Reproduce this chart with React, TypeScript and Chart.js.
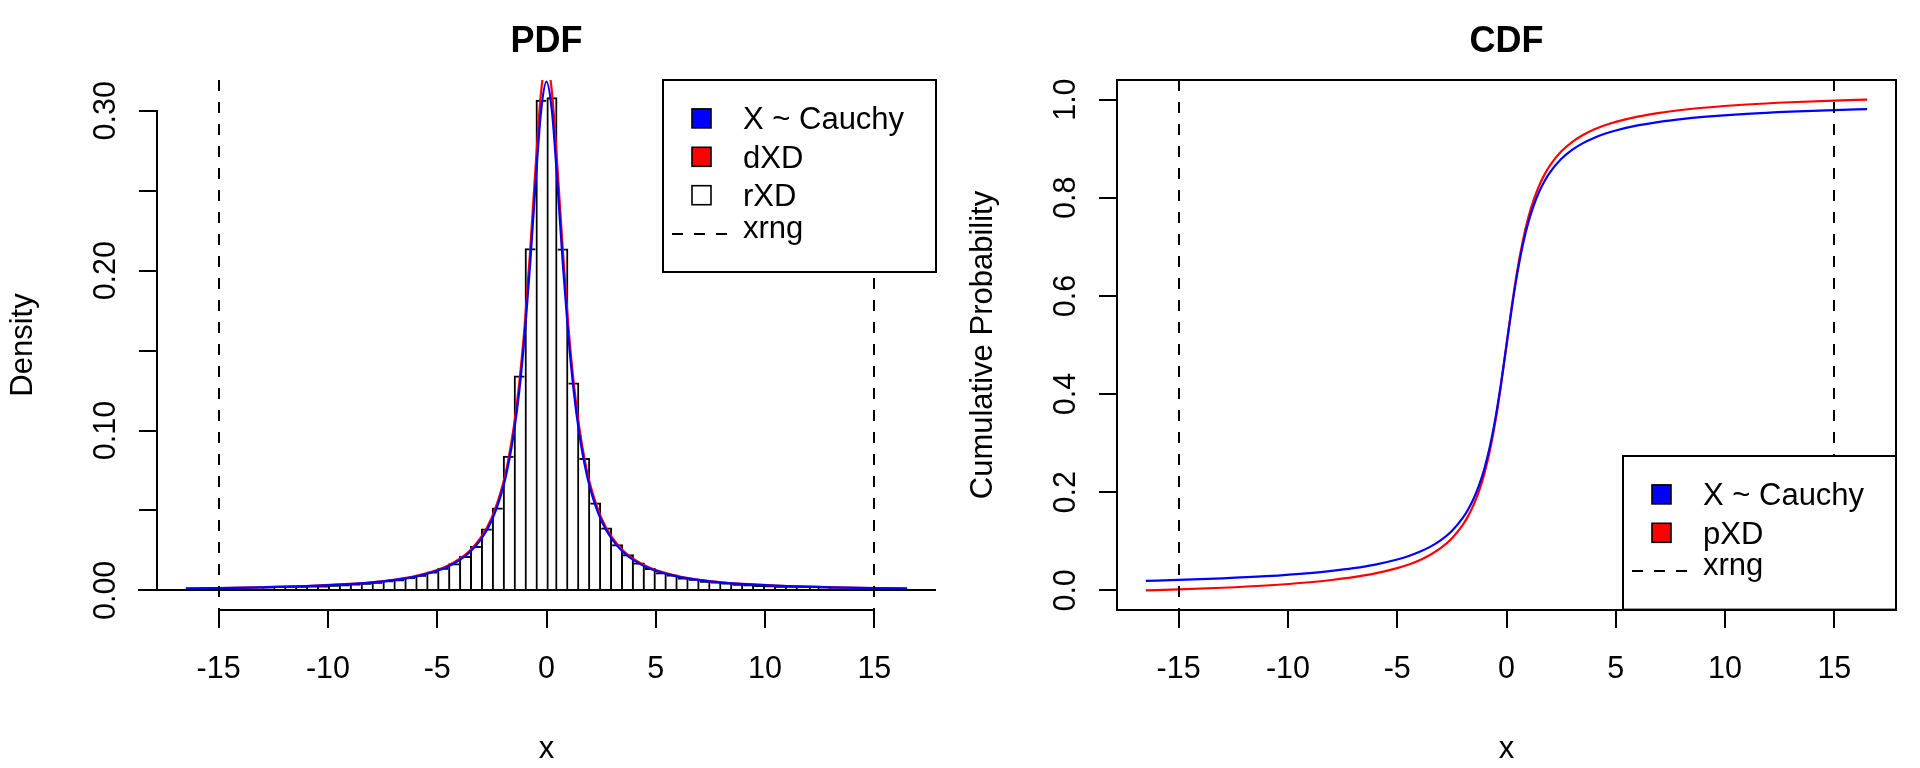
import React, { useEffect, useRef } from 'react';
import { Chart, registerables } from 'chart.js';

Chart.register(...registerables);

const FONT = '"Liberation Sans", Arial, Helvetica, sans-serif';

// ---------- data ----------
const xLimits = [-16.5, 16.5];
const pdfYLimits = [0, 0.307];
const cdfYLimits = [0, 1];
const xrng = [-15, 15];

const xTicks = [-15, -10, -5, 0, 5, 10, 15];
const xTickLabels = ['-15', '-10', '-5', '0', '5', '10', '15'];
const pdfYTicks = [0, 0.05, 0.1, 0.15, 0.2, 0.25, 0.3];
const pdfYTickLabels = ['0.00', '', '0.10', '', '0.20', '', '0.30'];
const cdfYTicks = [0, 0.2, 0.4, 0.6, 0.8, 1.0];
const cdfYTickLabels = ['0.0', '0.2', '0.4', '0.6', '0.8', '1.0'];

// histogram (rXD), bins of width 0.5 from -16.5 to 16.5
const histBinStart = -16.5;
const histBinWidth = 0.5;
const histDensity = [
  0.0013, 0.0014, 0.0014, 0.0015, 0.0016, 0.0017, 0.0019, 0.002, 0.0022, 0.0024,
  0.0026, 0.0029, 0.0031, 0.0035, 0.0038, 0.0043, 0.0047, 0.0054, 0.0063, 0.007,
  0.0083, 0.0097, 0.0118, 0.0142, 0.017, 0.0215, 0.0278, 0.0387, 0.0518, 0.0842,
  0.1344, 0.214, 0.307,
  0.3085, 0.2138, 0.13, 0.0828, 0.055, 0.0393, 0.0288, 0.0226, 0.0174, 0.014,
  0.0113, 0.0099, 0.0081, 0.0072, 0.006, 0.0055, 0.0049, 0.0042, 0.0039, 0.0034,
  0.0032, 0.0028, 0.0026, 0.0023, 0.0023, 0.0021, 0.0018, 0.0018, 0.0016, 0.0015,
  0.0014, 0.0013, 0.0012,
];

// curve sample points
const curveX = [
  -16.5, -15, -13, -11, -9, -8, -7, -6, -5, -4.5, -4, -3.5, -3, -2.5, -2, -1.75, -1.5,
  -1.25, -1, -0.75, -0.5, -0.25, 0, 0.25, 0.5, 0.75, 1, 1.25, 1.5, 1.75, 2, 2.5, 3,
  3.5, 4, 4.5, 5, 6, 7, 8, 9, 11, 13, 15, 16.5,
];
const cauchyDensity = [
  0.00117, 0.00141, 0.00187, 0.00261, 0.00388, 0.0049, 0.00637, 0.0086, 0.01224, 0.01498,
  0.01872, 0.02402, 0.03183, 0.0439, 0.06366, 0.07835, 0.09794, 0.12422, 0.15915, 0.20372,
  0.25465, 0.29958, 0.31831, 0.29958, 0.25465, 0.20372, 0.15915, 0.12422, 0.09794, 0.07835,
  0.06366, 0.0439, 0.03183, 0.02402, 0.01872, 0.01498, 0.01224, 0.0086, 0.00637, 0.0049,
  0.00388, 0.00261, 0.00187, 0.00141, 0.00117,
];
const dXD = [
  0.00121, 0.00146, 0.00195, 0.00271, 0.00404, 0.00509, 0.00662, 0.00895, 0.01273, 0.01558,
  0.01948, 0.02499, 0.03311, 0.04567, 0.06621, 0.0815, 0.10187, 0.1292, 0.16553, 0.21188,
  0.26486, 0.31159, 0.33107, 0.31159, 0.26486, 0.21188, 0.16553, 0.1292, 0.10187, 0.0815,
  0.06621, 0.04567, 0.03311, 0.02499, 0.01948, 0.01558, 0.01273, 0.00895, 0.00662, 0.00509,
  0.00404, 0.00271, 0.00195, 0.00146, 0.00121,
];
const cauchyCdf = [
  0.01927, 0.02119, 0.02444, 0.02886, 0.03522, 0.03958, 0.04516, 0.05257, 0.06283, 0.0696,
  0.07798, 0.08858, 0.10242, 0.12112, 0.14758, 0.16525, 0.18717, 0.21478, 0.25, 0.29517,
  0.35242, 0.42202, 0.5, 0.57798, 0.64758, 0.70483, 0.75, 0.78522, 0.81283, 0.83475,
  0.85242, 0.87888, 0.89758, 0.91142, 0.92202, 0.9304, 0.93717, 0.94743, 0.95484, 0.96042,
  0.96478, 0.97114, 0.97556, 0.97881, 0.98073,
];
const pXD = [
  0, 0.002, 0.00537, 0.00997, 0.01659, 0.02113, 0.02693, 0.03463, 0.04531, 0.05235,
  0.06106, 0.07209, 0.08648, 0.10593, 0.13346, 0.15183, 0.17463, 0.20334, 0.23998, 0.28696,
  0.3465, 0.4189, 0.5, 0.5811, 0.6535, 0.71304, 0.76002, 0.79666, 0.82537, 0.84817,
  0.86654, 0.89407, 0.91352, 0.92791, 0.93894, 0.94765, 0.95469, 0.96537, 0.97307, 0.97887,
  0.98341, 0.99003, 0.99463, 0.998, 1.0,
];

const pdfLegend = [
  { label: 'X ~ Cauchy', kind: 'fill', color: '#0000FF' },
  { label: 'dXD', kind: 'fill', color: '#FF0000' },
  { label: 'rXD', kind: 'fill', color: '#FFFFFF' },
  { label: 'xrng', kind: 'dash', color: '#000000' },
];
const cdfLegend = [
  { label: 'X ~ Cauchy', kind: 'fill', color: '#0000FF' },
  { label: 'pXD', kind: 'fill', color: '#FF0000' },
  { label: 'xrng', kind: 'dash', color: '#000000' },
];

// ---------- helpers ----------
const ext = (lim: number[]) => {
  const d = (lim[1] - lim[0]) * 0.04;
  return [lim[0] - d, lim[1] + d];
};

const DASH = [11, 11];
const TEXT_SIZE = 31;
const TICK_SIZE = 30.5;

function makeDecor(opts: {
  yAxisSpan: number[];
  box: boolean;
  baseline: boolean;
  legend: { label: string; kind: string; color: string }[];
  corner: 'topright' | 'bottomright';
}) {
  return {
    id: 'rdecor',
    afterDatasetsDraw(chart: any) {
      const { ctx, chartArea: ca } = chart;
      const xs = chart.scales.x;
      const ys = chart.scales.y;
      ctx.save();
      ctx.strokeStyle = '#000';
      ctx.lineWidth = 2;
      const line = (x1: number, y1: number, x2: number, y2: number) => {
        ctx.beginPath();
        ctx.moveTo(x1, y1);
        ctx.lineTo(x2, y2);
        ctx.stroke();
      };
      if (opts.baseline) {
        const y0 = Math.round(ys.getPixelForValue(0));
        line(Math.round(ca.left) - 19, y0, Math.round(ca.right), y0);
      }
      // dashed xrng lines
      ctx.setLineDash(DASH);
      for (const v of xrng) {
        const px = Math.round(xs.getPixelForValue(v));
        line(px, ca.top, px, ca.bottom);
      }
      ctx.setLineDash([]);
      // axis lines
      const xl = Math.round(xs.getPixelForValue(xTicks[0]));
      const xr = Math.round(xs.getPixelForValue(xTicks[xTicks.length - 1]));
      line(xl - 1, Math.round(ca.bottom), xr + 1, Math.round(ca.bottom));
      const yb = Math.round(ys.getPixelForValue(opts.yAxisSpan[0]));
      const yt = Math.round(ys.getPixelForValue(opts.yAxisSpan[1]));
      line(Math.round(ca.left), yb + 1, Math.round(ca.left), yt - 1);
      if (opts.box) {
        ctx.strokeRect(Math.round(ca.left), Math.round(ca.top), Math.round(ca.right - ca.left), Math.round(ca.bottom - ca.top));
      }
      // legend
      const rowH = 38.4;
      const w = 273;
      const h = rowH * (opts.legend.length + 1);
      const right = Math.round(ca.right);
      const left = right - w;
      const top = opts.corner === 'topright' ? Math.round(ca.top) : Math.round(ca.bottom - h);
      ctx.fillStyle = '#fff';
      ctx.fillRect(left, top, w, h);
      ctx.strokeRect(left, top, w, h);
      ctx.font = `${TEXT_SIZE}px ${FONT}`;
      ctx.textAlign = 'left';
      ctx.textBaseline = 'alphabetic';
      opts.legend.forEach((it, i) => {
        const cy = top + rowH * (i + 1);
        if (it.kind === 'fill') {
          ctx.fillStyle = it.color;
          ctx.fillRect(left + 29, cy - 9.5, 19, 19);
          ctx.lineWidth = 1.6;
          ctx.strokeStyle = '#000';
          ctx.strokeRect(left + 29, cy - 9.5, 19, 19);
          ctx.lineWidth = 2;
        } else {
          ctx.setLineDash(DASH);
          ctx.strokeStyle = it.color;
          line(left + 9, Math.round(cy), left + 64, Math.round(cy));
          ctx.setLineDash([]);
        }
        ctx.fillStyle = '#000';
        ctx.fillText(it.label, left + 80, cy + (it.kind === 'dash' ? 4 : 11));
      });
      ctx.restore();
    },
  };
}

function xScale() {
  const [mn, mx] = ext(xLimits);
  return {
    type: 'linear',
    min: mn,
    max: mx,
    offset: false,
    border: { display: false },
    grid: { drawOnChartArea: false, drawTicks: true, tickLength: 18, color: '#000', lineWidth: 2, offset: false },
    ticks: {
      autoSkip: false,
      minRotation: 0,
      maxRotation: 0,
      padding: 23,
      color: '#000',
      font: { size: TICK_SIZE, family: FONT },
      callback: (_v: any, i: number) => xTickLabels[i],
    },
    afterBuildTicks: (ax: any) => {
      ax.ticks = xTicks.map((value) => ({ value }));
    },
    afterFit: (ax: any) => {
      ax.height = 158;
    },
    title: {
      display: true,
      text: 'x',
      color: '#000',
      font: { size: TEXT_SIZE, family: FONT },
      padding: { top: 0, bottom: 0 },
    },
  };
}

function yScale(lim: number[], ticks: number[], labels: string[], pad: number, title: string) {
  const [mn, mx] = ext(lim);
  return {
    type: 'linear',
    position: 'left',
    min: mn,
    max: mx,
    border: { display: false },
    grid: { drawOnChartArea: false, drawTicks: true, tickLength: 18, color: '#000', lineWidth: 2 },
    ticks: {
      autoSkip: false,
      minRotation: 90,
      maxRotation: 90,
      crossAlign: 'center',
      padding: pad,
      color: '#000',
      font: { size: TICK_SIZE, family: FONT },
      callback: (_v: any, i: number) => labels[i],
    },
    afterBuildTicks: (ax: any) => {
      ax.ticks = ticks.map((value) => ({ value }));
    },
    afterFit: (ax: any) => {
      ax.width = 157;
    },
    title: {
      display: true,
      text: title,
      color: '#000',
      font: { size: TEXT_SIZE, family: FONT },
      padding: { top: 4.5, bottom: 0 },
    },
  };
}

function titleOpts(text: string) {
  return {
    display: true,
    text,
    fullSize: false,
    color: '#000',
    font: { size: 36, weight: 'bold', family: FONT, lineHeight: 1.2 },
    padding: { top: 20, bottom: 16.8 },
  };
}

const pts = (ys: number[]) => curveX.map((x, i) => ({ x, y: ys[i] }));

// each shared bar edge is drawn once, by the taller neighbour
function barBorder(ctx: any) {
  const i = ctx.dataIndex;
  const h = histDensity[i];
  const prev = i > 0 ? histDensity[i - 1] : 0;
  const next = i < histDensity.length - 1 ? histDensity[i + 1] : 0;
  return { top: 2, bottom: 0, left: h >= prev ? 2 : 0, right: h > next ? 2 : 0 };
}

function buildPdf(canvas: HTMLCanvasElement) {
  const bars = histDensity.map((y, i) => ({ x: histBinStart + histBinWidth * (i + 0.5), y }));
  return new Chart(canvas, {
    type: 'bar',
    data: {
      datasets: [
        {
          type: 'line',
          label: 'X ~ Cauchy',
          data: pts(cauchyDensity),
          borderColor: '#0000FF',
          borderWidth: 2.2,
          pointRadius: 0,
          cubicInterpolationMode: 'monotone',
          order: 0,
        } as any,
        {
          type: 'line',
          label: 'dXD',
          data: pts(dXD),
          borderColor: '#FF0000',
          borderWidth: 2.2,
          pointRadius: 0,
          cubicInterpolationMode: 'monotone',
          order: 1,
        },
        {
          type: 'bar',
          label: 'rXD',
          data: bars,
          backgroundColor: 'rgba(0,0,0,0)',
          borderColor: '#000',
          borderWidth: barBorder,
          borderSkipped: false,
          barPercentage: 1,
          categoryPercentage: 1,
          inflateAmount: 0,
          order: 2,
        },
      ],
    },
    options: {
      responsive: false,
      animation: false,
      devicePixelRatio: 1,
      layout: { padding: { left: 0, right: 24, top: 0, bottom: 0 } },
      plugins: { legend: { display: false }, tooltip: { enabled: false }, title: titleOpts('PDF') },
      scales: {
        x: xScale(),
        y: yScale(pdfYLimits, pdfYTicks, pdfYTickLabels, 3.2, 'Density'),
      },
    } as any,
    plugins: [makeDecor({ yAxisSpan: [0, 0.3], box: false, baseline: true, legend: pdfLegend, corner: 'topright' })],
  } as any);
}

function buildCdf(canvas: HTMLCanvasElement) {
  return new Chart(canvas, {
    type: 'line',
    data: {
      datasets: [
        {
          label: 'X ~ Cauchy',
          data: pts(cauchyCdf),
          borderColor: '#0000FF',
          borderWidth: 2.2,
          pointRadius: 0,
          cubicInterpolationMode: 'monotone',
        },
        {
          label: 'pXD',
          data: pts(pXD),
          borderColor: '#FF0000',
          borderWidth: 2.2,
          pointRadius: 0,
          cubicInterpolationMode: 'monotone',
        },
      ],
    },
    options: {
      responsive: false,
      animation: false,
      devicePixelRatio: 1,
      layout: { padding: { left: 0, right: 24, top: 0, bottom: 0 } },
      plugins: { legend: { display: false }, tooltip: { enabled: false }, title: titleOpts('CDF') },
      scales: {
        x: xScale(),
        y: yScale(cdfYLimits, cdfYTicks, cdfYTickLabels, 11.5, 'Cumulative Probability'),
      },
    } as any,
    plugins: [makeDecor({ yAxisSpan: [0, 1], box: true, baseline: false, legend: cdfLegend, corner: 'bottomright' })],
  } as any);
}

function Panel({ build, left }: { build: (c: HTMLCanvasElement) => Chart; left: number }) {
  const ref = useRef<HTMLCanvasElement>(null);
  useEffect(() => {
    const chart = build(ref.current as HTMLCanvasElement);
    return () => chart.destroy();
  }, [build]);
  return (
    <canvas
      ref={ref}
      width={960}
      height={768}
      style={{ position: 'absolute', left, top: 0, width: 960, height: 768 }}
    />
  );
}

export default function App() {
  return (
    <div style={{ position: 'fixed', left: 0, top: 0, width: 1920, height: 768, background: '#fff', overflow: 'hidden' }}>
      <Panel build={buildPdf} left={0} />
      <Panel build={buildCdf} left={960} />
    </div>
  );
}
